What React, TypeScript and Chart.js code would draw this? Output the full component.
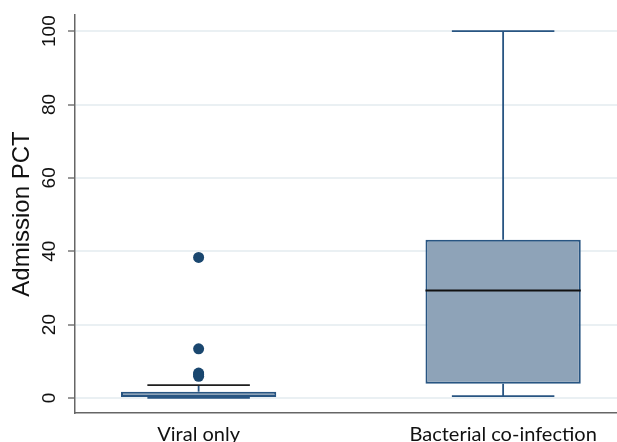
import React, { useEffect, useRef } from "react";
import { Chart, registerables } from "chart.js";

Chart.register(...registerables);

// ---- data ----
const categories = ["Viral only", "Bacterial co-infection"];
const categoryPos = [1, 2];
const whiskerLow = [0, 0.5];
const q1 = [0, 3.9];
const median = [0, 29.3];
const q3 = [1.7, 43.1];
const whiskerHigh = [3.5, 100];
const outlierCat = [1, 1, 1, 1, 1];
const outlierVal = [38.3, 13.4, 6.8, 6.4, 5.9];
const yTicks = [0, 20, 40, 60, 80, 100];

// ---- styles ----
const boxFill = "#8ea3b8";
const boxLine = "#285582";
const capColors = ["#1e1e1e", "#285582"];
const medianColor = "#111111";
const dotColor = "#1a476f";

const boxPlugin = {
  id: "boxWhiskers",
  afterDatasetsDraw(chart: any) {
    const meta = chart.getDatasetMeta(0);
    const y = chart.scales.y;
    const ctx = chart.ctx;
    ctx.save();
    meta.data.forEach((bar: any, i: number) => {
      const cx = bar.x;
      const w = bar.width;
      const capHalf = (w * 0.66) / 2;
      const yQ1 = y.getPixelForValue(q1[i]);
      const yQ3 = y.getPixelForValue(q3[i]);
      const yLo = y.getPixelForValue(whiskerLow[i]);
      const yHi = y.getPixelForValue(whiskerHigh[i]);
      const yMed = y.getPixelForValue(median[i]);
      ctx.strokeStyle = boxLine;
      ctx.lineWidth = 1.8;
      ctx.beginPath();
      ctx.moveTo(cx, yQ3);
      ctx.lineTo(cx, yHi);
      ctx.moveTo(cx, yQ1);
      ctx.lineTo(cx, yLo);
      ctx.stroke();
      ctx.strokeStyle = capColors[i];
      ctx.beginPath();
      ctx.moveTo(cx - capHalf, yHi);
      ctx.lineTo(cx + capHalf, yHi);
      ctx.stroke();
      ctx.strokeStyle = boxLine;
      ctx.beginPath();
      ctx.moveTo(cx - capHalf, yLo);
      ctx.lineTo(cx + capHalf, yLo);
      ctx.stroke();
      if (median[i] > q1[i]) {
        ctx.strokeStyle = medianColor;
        ctx.lineWidth = 1.8;
        ctx.beginPath();
        ctx.moveTo(bar.x - w / 2, yMed);
        ctx.lineTo(bar.x + w / 2, yMed);
        ctx.stroke();
      }
    });
    ctx.restore();
  },
};

export default function App() {
  const ref = useRef<HTMLCanvasElement>(null);
  useEffect(() => {
    if (!ref.current) return;
    const chart = new Chart(ref.current, {
      type: "bar",
      data: {
        datasets: [
          {
            type: "bar",
            data: categoryPos.map((x, i) => ({ x, y: [q1[i], q3[i]] })) as any,
            backgroundColor: boxFill,
            borderColor: boxLine,
            borderWidth: 2,
            borderSkipped: false,
            barPercentage: 0.51,
            categoryPercentage: 1,
            order: 2,
          } as any,
          {
            type: "scatter",
            data: outlierVal.map((v, i) => ({ x: outlierCat[i], y: v })),
            backgroundColor: dotColor,
            borderColor: dotColor,
            pointRadius: 5.5,
            borderWidth: 0,
            order: 1,
          } as any,
        ],
      },
      options: {
        animation: false,
        responsive: false,
        maintainAspectRatio: false,
        layout: { autoPadding: false, padding: { top: 15, right: 0, left: 0, bottom: 0 } },
        plugins: { legend: { display: false }, tooltip: { enabled: false } },
        scales: {
          x: {
            type: "linear",
            offset: false,
            min: 0.594,
            max: 2.374,
            afterBuildTicks: (s: any) => {
              s.ticks = categoryPos.map((v) => ({ value: v }));
            },
            afterFit: (s: any) => {
              s.height = 29;
            },
            grid: { display: false },
            border: { display: true, color: "#666", width: 1.5 },
            ticks: {
              callback: (v: any) => categories[categoryPos.indexOf(Number(v))] ?? "",
              font: { family: "Lato", size: 20 },
              color: "#111",
              padding: 2,
              maxRotation: 0,
              minRotation: 0,
              autoSkip: false,
            },
          },
          y: {
            type: "linear",
            min: -4.1,
            max: 104.4,
            afterBuildTicks: (s: any) => {
              s.ticks = yTicks.map((v) => ({ value: v }));
            },
            afterFit: (s: any) => {
              s.width = 75;
            },
            grid: {
              color: "#eaf0f3",
              lineWidth: 2,
              tickColor: "#333",
              tickLength: 7,
              tickWidth: 1,
            },
            border: { display: true, color: "#666", width: 1.5 },
            ticks: {
              minRotation: 90,
              maxRotation: 90,
              crossAlign: "center",
              padding: 2,
              font: { family: "'Liberation Sans', Arial, sans-serif", size: 19 },
              color: "#111",
            },
            title: {
              display: true,
              text: "Admission PCT",
              font: { family: "'Liberation Sans', Arial, sans-serif", size: 24 },
              color: "#111",
              padding: { top: 8, bottom: 0 },
            },
          },
        },
      } as any,
      plugins: [boxPlugin],
    });
    return () => chart.destroy();
  }, []);
  return (
    <div style={{ position: "fixed", left: 0, top: 0, width: 617, height: 442, background: "#fff" }}>
      <canvas ref={ref} width={617} height={442} style={{ display: "block" }} />
    </div>
  );
}
